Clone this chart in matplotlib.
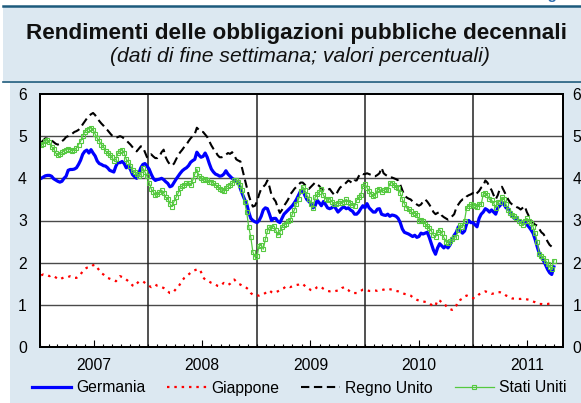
import numpy as np
import pandas as pd
import matplotlib
matplotlib.use("Agg")
import matplotlib.pyplot as plt
import matplotlib.dates as mdates
from matplotlib.patches import Rectangle
from matplotlib.lines import Line2D

plt.rcParams['font.family'] = ['Liberation Sans', 'DejaVu Sans']

# weekly closing yields (Friday), one row per month
germania = [
    # 2007
    4.0, 4.03, 4.06, 4.07,
    4.07, 4.05, 3.99, 3.96,
    3.93, 3.91, 3.93, 4.0, 4.05,
    4.19, 4.21, 4.21, 4.22,
    4.25, 4.33, 4.43, 4.57,
    4.64, 4.67, 4.6, 4.68, 4.6,
    4.53, 4.41, 4.35, 4.33,
    4.3, 4.29, 4.25, 4.19, 4.17,
    4.15, 4.29, 4.38, 4.37,
    4.4, 4.35, 4.25, 4.29,
    4.21, 4.09, 4.04, 4.0, 4.11,
    4.25, 4.33, 4.35, 4.29,
    # 2008
    4.22, 4.1, 4.0, 3.95,
    3.97, 3.98, 4.0, 3.97, 3.92,
    3.88, 3.8, 3.82, 3.9,
    3.98, 4.05, 4.12, 4.18,
    4.22, 4.25, 4.3, 4.38, 4.42,
    4.45, 4.62, 4.55, 4.5,
    4.52, 4.6, 4.5, 4.35,
    4.22, 4.15, 4.1, 4.08, 4.05,
    4.06, 4.1, 4.18, 4.1,
    4.05, 4.0, 3.97, 3.93, 3.9,
    3.75, 3.62, 3.5, 3.4,
    3.2, 3.05, 3.0, 2.97,
    # 2009
    2.95, 3.0, 3.1, 3.25, 3.3,
    3.28, 3.15, 3.0, 3.05,
    3.05, 2.98, 2.95, 3.05,
    3.15, 3.2, 3.25, 3.3,
    3.35, 3.42, 3.5, 3.6, 3.7,
    3.72, 3.6, 3.5, 3.45,
    3.4, 3.3, 3.35, 3.48, 3.42,
    3.35, 3.45, 3.38, 3.3,
    3.28, 3.3, 3.35, 3.28,
    3.2, 3.25, 3.3, 3.32, 3.28,
    3.3, 3.25, 3.22, 3.15,
    3.15, 3.2, 3.28, 3.35,
    # 2010
    3.3, 3.4, 3.3, 3.25, 3.2,
    3.2, 3.27, 3.28, 3.15,
    3.13, 3.12, 3.15, 3.1,
    3.13, 3.12, 3.1, 3.05, 2.95,
    2.8, 2.72, 2.7, 2.68,
    2.65, 2.62, 2.65, 2.6,
    2.62, 2.7, 2.68, 2.7, 2.72,
    2.6, 2.45, 2.3, 2.2,
    2.35, 2.45, 2.4, 2.35,
    2.4, 2.35, 2.42, 2.55, 2.65,
    2.72, 2.85, 2.75, 2.7,
    2.75, 2.92, 3.0, 2.95, 2.95,
    # 2011
    2.9, 2.85, 3.05, 3.15,
    3.2, 3.28, 3.25, 3.2,
    3.25, 3.2, 3.15, 3.3,
    3.35, 3.42, 3.38, 3.3, 3.28,
    3.2, 3.1, 3.05, 3.05,
    3.0, 2.98, 2.95, 2.95,
    2.9, 2.85, 2.78, 2.7, 2.55,
    2.38, 2.22, 2.12, 2.05,
    1.95, 1.84, 1.76, 1.72, 1.9,
]

giappone = [
    # 2007
    1.7, 1.72, 1.7, 1.7,
    1.68, 1.7, 1.68, 1.65,
    1.62, 1.6, 1.63, 1.65, 1.66,
    1.66, 1.68, 1.67, 1.64,
    1.64, 1.68, 1.72, 1.8,
    1.85, 1.88, 1.88, 1.9, 1.94,
    1.95, 1.88, 1.82, 1.75,
    1.72, 1.68, 1.64, 1.62, 1.6,
    1.58, 1.56, 1.62, 1.68,
    1.66, 1.64, 1.6, 1.56,
    1.52, 1.46, 1.44, 1.5, 1.55,
    1.56, 1.56, 1.52, 1.48,
    # 2008
    1.45, 1.42, 1.45, 1.48,
    1.45, 1.44, 1.42, 1.4, 1.37,
    1.32, 1.28, 1.28, 1.32,
    1.38, 1.42, 1.5, 1.58,
    1.64, 1.68, 1.72, 1.76, 1.8,
    1.82, 1.84, 1.85, 1.78,
    1.65, 1.6, 1.58, 1.55,
    1.52, 1.5, 1.48, 1.45, 1.44,
    1.48, 1.52, 1.5, 1.47,
    1.5, 1.55, 1.6, 1.55, 1.5,
    1.48, 1.45, 1.42, 1.4,
    1.36, 1.28, 1.24, 1.22,
    # 2009
    1.22, 1.22, 1.24, 1.25, 1.28,
    1.32, 1.34, 1.3, 1.28,
    1.3, 1.32, 1.35, 1.38,
    1.4, 1.44, 1.44, 1.42,
    1.44, 1.46, 1.47, 1.48, 1.5,
    1.5, 1.45, 1.4, 1.38,
    1.35, 1.34, 1.38, 1.42, 1.44,
    1.42, 1.38, 1.35, 1.33,
    1.32, 1.33, 1.32, 1.33,
    1.34, 1.35, 1.4, 1.42, 1.38,
    1.35, 1.3, 1.28, 1.28,
    1.28, 1.3, 1.33, 1.36,
    # 2010
    1.36, 1.35, 1.33, 1.33, 1.34,
    1.34, 1.33, 1.34, 1.35,
    1.36, 1.38, 1.38, 1.37,
    1.36, 1.35, 1.33, 1.32, 1.3,
    1.28, 1.26, 1.25, 1.24,
    1.22, 1.18, 1.15, 1.12,
    1.1, 1.08, 1.08, 1.07, 1.06,
    1.04, 1.0, 0.96, 0.98,
    1.12, 1.1, 1.06, 1.05,
    0.98, 0.92, 0.9, 0.88, 0.9,
    0.98, 1.1, 1.12, 1.15,
    1.2, 1.22, 1.2, 1.17, 1.16,
    # 2011
    1.16, 1.2, 1.25, 1.27,
    1.3, 1.32, 1.3, 1.28,
    1.26, 1.27, 1.28, 1.3,
    1.3, 1.28, 1.26, 1.22, 1.2,
    1.17, 1.15, 1.15, 1.14,
    1.14, 1.14, 1.15, 1.14,
    1.13, 1.12, 1.1, 1.08, 1.06,
    1.03, 1.02, 1.02, 1.01,
    1.02, 1.02, 1.03, 1.04, 1.04,
]

regno_unito = [
    # 2007
    4.85, 4.9, 4.95, 4.94,
    4.92, 4.9, 4.86, 4.82,
    4.8, 4.82, 4.88, 4.92, 4.98,
    5.0, 5.04, 5.06, 5.1,
    5.12, 5.15, 5.2, 5.28,
    5.35, 5.42, 5.48, 5.52, 5.55,
    5.5, 5.42, 5.36, 5.3,
    5.25, 5.18, 5.14, 5.08, 5.02,
    5.0, 4.96, 4.98, 5.0,
    4.98, 4.94, 4.9, 4.85,
    4.8, 4.74, 4.68, 4.64, 4.7,
    4.76, 4.74, 4.62, 4.5,
    # 2008
    4.5, 4.57, 4.52, 4.48,
    4.48, 4.52, 4.62, 4.68, 4.5,
    4.4, 4.33, 4.3, 4.35,
    4.45, 4.55, 4.62, 4.68,
    4.75, 4.8, 4.88, 4.95, 5.0,
    5.05, 5.2, 5.15, 5.1,
    5.1, 5.04, 4.98, 4.88,
    4.78, 4.7, 4.64, 4.55, 4.5,
    4.5, 4.52, 4.56, 4.6,
    4.58, 4.62, 4.55, 4.45, 4.42,
    4.4, 4.2, 4.0, 3.8,
    3.6, 3.45, 3.33, 3.35,
    # 2009
    3.45, 3.62, 3.75, 3.8, 3.85,
    3.95, 3.8, 3.6, 3.52,
    3.45, 3.3, 3.18, 3.25,
    3.35, 3.42, 3.5, 3.62,
    3.68, 3.75, 3.8, 3.85, 3.9,
    3.9, 3.85, 3.78, 3.75,
    3.8, 3.85, 3.9, 3.85, 3.82,
    3.75, 3.72, 3.7, 3.72,
    3.75, 3.68, 3.62, 3.6,
    3.7, 3.78, 3.82, 3.85, 3.9,
    3.95, 3.92, 3.88, 3.95,
    3.95, 4.05, 4.12, 4.1,
    # 2010
    4.1, 4.12, 4.1, 4.08, 4.05,
    4.05, 4.08, 4.12, 4.25,
    4.12, 4.08, 4.05, 4.02,
    4.02, 4.0, 3.98, 3.95, 3.85,
    3.72, 3.6, 3.55, 3.52,
    3.5, 3.45, 3.42, 3.38,
    3.35, 3.38, 3.45, 3.5, 3.45,
    3.38, 3.3, 3.2, 3.15,
    3.18, 3.2, 3.12, 3.08,
    3.05, 3.02, 3.05, 3.1, 3.15,
    3.3, 3.38, 3.45, 3.5,
    3.5, 3.57, 3.6, 3.62, 3.65,
    # 2011
    3.6, 3.65, 3.7, 3.78,
    3.82, 3.95, 3.9, 3.8,
    3.72, 3.6, 3.5, 3.6,
    3.75, 3.8, 3.7, 3.6, 3.5,
    3.42, 3.38, 3.35, 3.32,
    3.3, 3.26, 3.3, 3.34,
    3.2, 3.1, 3.0, 2.95, 2.9,
    2.88, 2.8, 2.72, 2.68,
    2.6, 2.5, 2.42, 2.38, 2.47,
]

stati_uniti = [
    # 2007
    4.78, 4.82, 4.88, 4.9,
    4.85, 4.75, 4.7, 4.6,
    4.55, 4.58, 4.62, 4.65, 4.68,
    4.7, 4.68, 4.65, 4.68,
    4.72, 4.8, 4.88, 5.0,
    5.1, 5.15, 5.18, 5.2, 5.15,
    5.05, 4.95, 4.88, 4.8,
    4.75, 4.65, 4.6, 4.55, 4.5,
    4.42, 4.45, 4.6, 4.65,
    4.68, 4.6, 4.45, 4.38,
    4.3, 4.2, 4.15, 4.1, 4.05,
    4.1, 4.24, 4.15, 4.05,
    # 2008
    3.9, 3.75, 3.68, 3.6,
    3.62, 3.68, 3.72, 3.65, 3.55,
    3.52, 3.4, 3.33, 3.45,
    3.55, 3.65, 3.78, 3.82,
    3.85, 3.88, 3.9, 3.85, 3.95,
    4.1, 4.22, 4.05, 4.0,
    3.95, 3.98, 3.95, 3.92,
    3.92, 3.88, 3.85, 3.8, 3.75,
    3.72, 3.7, 3.78, 3.82,
    3.85, 3.88, 3.95, 3.96, 3.92,
    3.85, 3.72, 3.45, 3.2,
    2.85, 2.6, 2.25, 2.14,
    # 2009
    2.15, 2.4, 2.42, 2.32, 2.55,
    2.75, 2.85, 2.82, 2.88,
    2.78, 2.65, 2.72, 2.85,
    2.9, 2.92, 3.0, 3.02,
    3.15, 3.25, 3.4, 3.5, 3.7,
    3.8, 3.72, 3.6, 3.52,
    3.4, 3.3, 3.55, 3.62, 3.68,
    3.75, 3.6, 3.52, 3.48,
    3.52, 3.45, 3.4, 3.38,
    3.42, 3.46, 3.42, 3.45, 3.5,
    3.45, 3.42, 3.36, 3.34,
    3.48, 3.55, 3.6, 3.82,
    # 2010
    3.86, 3.78, 3.7, 3.62, 3.58,
    3.6, 3.72, 3.75, 3.68,
    3.72, 3.74, 3.72, 3.88,
    3.9, 3.85, 3.8, 3.76, 3.65,
    3.5, 3.4, 3.3, 3.28,
    3.22, 3.15, 3.18, 3.12,
    3.0, 3.02, 2.98, 2.92, 2.88,
    2.82, 2.75, 2.65, 2.62,
    2.72, 2.78, 2.7, 2.6,
    2.5, 2.47, 2.52, 2.55, 2.6,
    2.62, 2.78, 2.9, 2.85,
    3.0, 3.3, 3.35, 3.38, 3.36,
    # 2011
    3.35, 3.32, 3.4, 3.38,
    3.62, 3.65, 3.6, 3.5,
    3.48, 3.42, 3.3, 3.45,
    3.45, 3.55, 3.52, 3.38, 3.25,
    3.18, 3.14, 3.1, 3.06,
    3.0, 2.95, 2.9, 3.0,
    3.05, 3.0, 2.95, 2.85, 2.7,
    2.5, 2.2, 2.15, 2.12,
    2.05, 1.98, 1.9, 1.85, 2.05,
]

series_names = ["Germania", "Giappone", "Regno Unito", "Stati Uniti"]
y_ticks = [0, 1, 2, 3, 4, 5, 6]

BG = '#dce8f1'
W, H = 581, 403


def weeks(values):
    return pd.date_range('2007-01-05', periods=len(values), freq='W-FRI')


fig = plt.figure(figsize=(W / 100, H / 100), dpi=100, facecolor='white')

# light blue panels: title box and chart box (behind the axes)
fig.patches.append(Rectangle((3 / W, 1 - 81 / H), 1, 74 / H, transform=fig.transFigure,
                             facecolor=BG, edgecolor='none', zorder=-5))
fig.patches.append(Rectangle((10 / W, 0), 1, 1 - 82 / H, transform=fig.transFigure,
                             facecolor=BG, edgecolor='none', zorder=-5))
fig.add_artist(Line2D([3 / W, 1], [1 - 6 / H, 1 - 6 / H], color='#1d5a7c', lw=1.8))
fig.add_artist(Line2D([3 / W, 1], [1 - 81.5 / H, 1 - 81.5 / H], color='#1d5a7c', lw=1.2))

# page header of the figure, mostly cropped away at the top edge
fig.text(0.999, 1 + 1 / H, 'Figura', ha='right', va='baseline', color='#2f6fb0',
         fontsize=11, fontweight='bold')
fig.text(0.51, 1 - 33 / H, 'Rendimenti delle obbligazioni pubbliche decennali',
         ha='center', va='center', fontsize=16.2, fontweight='bold', color='#111111')
fig.text(0.516, 1 - 56 / H, '(dati di fine settimana; valori percentuali)',
         ha='center', va='center', fontsize=15.2, style='italic', color='#111111')

ax = fig.add_axes([40 / W, 1 - 347 / H, 523 / W, 253 / H])
ax.set_facecolor('white')

ax.plot(weeks(germania), germania, color='#0000ff', lw=2.3, label=series_names[0], zorder=3)
ax.plot(weeks(giappone), giappone, color='#ff0000', lw=1.6, dashes=(1.1, 2.2),
        label=series_names[1], zorder=3)
ax.plot(weeks(regno_unito), regno_unito, color='black', lw=1.5, dashes=(4, 2.2),
        label=series_names[2], zorder=3)
ax.plot(weeks(stati_uniti), stati_uniti, color='#55c940', lw=0.9, marker='s', ms=3.2,
        mfc='none', mec='#55c940', mew=0.8, label=series_names[3], zorder=4)

x0 = pd.Timestamp('2007-01-01')
x1 = pd.Timestamp('2011-10-31')
ax.set_xlim(x0, x1)
ax.set_ylim(y_ticks[0], y_ticks[-1])
ax.set_yticks(y_ticks)

for y in y_ticks[1:-1]:
    ax.axhline(y, color='#4a4a4a', lw=1.0, zorder=1)
for d in pd.date_range('2008-01-01', x1, freq='YS'):
    ax.axvline(d, color='#222222', lw=1.1, zorder=1)

# year labels sit on mid-year ticks, month ticks are short and inside
ax.xaxis.set_major_locator(mdates.MonthLocator(bymonth=7, bymonthday=1))
ax.xaxis.set_major_formatter(mdates.DateFormatter('%Y'))
ax.xaxis.set_minor_locator(mdates.MonthLocator())
ax.tick_params(axis='x', which='major', direction='in', length=5, width=0.8,
               labelsize=11.3, pad=8, top=False)
ax.tick_params(axis='x', which='minor', direction='in', length=2.5, width=0.8, top=False)
ax.tick_params(axis='y', which='both', length=0, labelsize=11.3, pad=9.5,
               left=False, right=False)

# right-hand copy of the value scale
ax_r = ax.twinx()
ax_r.set_ylim(ax.get_ylim())
ax_r.set_yticks(y_ticks)
ax_r.tick_params(axis='y', length=0, labelsize=11.3, pad=7)

for a in (ax, ax_r):
    for s in a.spines.values():
        s.set_linewidth(1.4)
        s.set_color('black')

fig.legend(handles=ax.get_lines()[:4], loc='center', bbox_to_anchor=(0.515, 1 - 388 / H),
           ncol=4, frameon=False, fontsize=11.3, handlelength=2.5, handletextpad=0.3,
           columnspacing=1.4, borderaxespad=0)

fig.savefig('out.png', dpi=100, facecolor=fig.get_facecolor())
